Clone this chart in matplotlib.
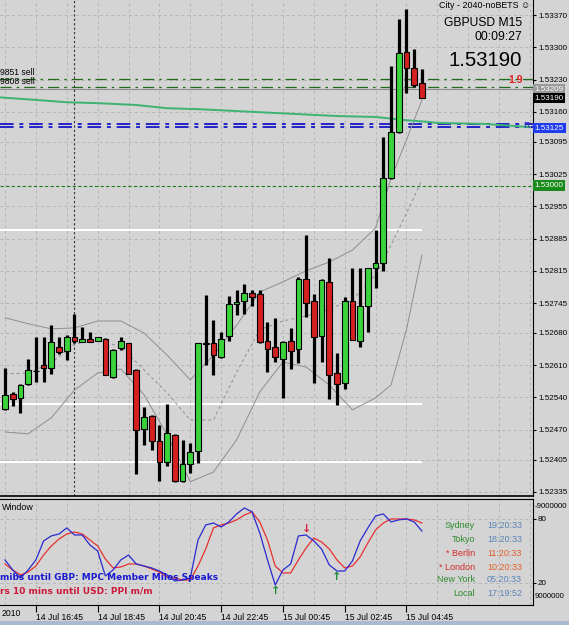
import matplotlib
matplotlib.use('Agg')
import matplotlib.pyplot as plt
from matplotlib.patches import Rectangle

W, H = 569, 625

# ---------------- data ----------------
opens = [1.52515, 1.52548, 1.52539, 1.52569, 1.52597, 1.52611, 1.52604, 1.52650, 1.52641, 1.52671,
         1.52661, 1.52667, 1.52663, 1.52667, 1.52585, 1.52648, 1.52658, 1.52600, 1.52472, 1.52500,
         1.52446, 1.52400, 1.52459, 1.52359, 1.52396, 1.52424, 1.52657, 1.52658, 1.52628, 1.52674,
         1.52743, 1.52749, 1.52767, 1.52765, 1.52663, 1.52650, 1.52624, 1.52663, 1.52645, 1.52797,
         1.52749, 1.52674, 1.52791, 1.52593, 1.52572, 1.52749, 1.52663, 1.52739, 1.52821, 1.52832,
         1.53016, 1.53116, 1.53290, 1.53255, 1.53222]
highs = [1.52604, 1.52552, 1.52569, 1.52624, 1.52671, 1.52671, 1.52697, 1.52671, 1.52676, 1.52721,
         1.52693, 1.52682, 1.52672, 1.52668, 1.52645, 1.52671, 1.52659, 1.52601, 1.52519, 1.52501,
         1.52480, 1.52526, 1.52460, 1.52448, 1.52441, 1.52659, 1.52762, 1.52708, 1.52682, 1.52760,
         1.52773, 1.52786, 1.52773, 1.52773, 1.52704, 1.52713, 1.52662, 1.52691, 1.52802, 1.52893,
         1.52765, 1.52797, 1.52843, 1.52637, 1.52758, 1.52821, 1.52821, 1.52822, 1.52904, 1.53105,
         1.53259, 1.53361, 1.53383, 1.53296, 1.53253]
lows = [1.52513, 1.52522, 1.52506, 1.52567, 1.52574, 1.52574, 1.52591, 1.52634, 1.52621, 1.52658,
        1.52660, 1.52660, 1.52662, 1.52588, 1.52582, 1.52643, 1.52590, 1.52374, 1.52437, 1.52426,
        1.52359, 1.52391, 1.52357, 1.52357, 1.52376, 1.52398, 1.52611, 1.52589, 1.52626, 1.52663,
        1.52719, 1.52721, 1.52739, 1.52658, 1.52595, 1.52617, 1.52539, 1.52602, 1.52615, 1.52715,
        1.52572, 1.52617, 1.52537, 1.52524, 1.52559, 1.52664, 1.52650, 1.52682, 1.52778, 1.52815,
        1.53014, 1.53114, 1.53201, 1.53214, 1.53190]
closes = [1.52546, 1.52537, 1.52568, 1.52600, 1.52598, 1.52604, 1.52661, 1.52639, 1.52671, 1.52663,
          1.52667, 1.52661, 1.52671, 1.52589, 1.52643, 1.52663, 1.52591, 1.52470, 1.52498, 1.52446,
          1.52400, 1.52463, 1.52359, 1.52396, 1.52422, 1.52658, 1.52659, 1.52632, 1.52667, 1.52743,
          1.52747, 1.52767, 1.52758, 1.52661, 1.52645, 1.52628, 1.52661, 1.52641, 1.52797, 1.52745,
          1.52671, 1.52795, 1.52589, 1.52569, 1.52749, 1.52665, 1.52739, 1.52821, 1.52832, 1.53016,
          1.53116, 1.53288, 1.53255, 1.53218, 1.53190]

band_idx = [0, 3, 6, 9, 12, 15, 18, 21, 24, 27, 30, 33, 36, 39, 42, 45, 48, 50, 52, 54]
band_upper = [1.52713, 1.52700, 1.52689, 1.52691, 1.52706, 1.52706, 1.52680, 1.52632, 1.52578, 1.52632,
              1.52697, 1.52769, 1.52791, 1.52815, 1.52834, 1.52860, 1.52908, 1.53016, 1.53099, 1.53186]
band_mid = [1.52591, 1.52593, 1.52615, 1.52656, 1.52665, 1.52650, 1.52600, 1.52550, 1.52491, 1.52491,
            1.52595, 1.52687, 1.52706, 1.52717, 1.52732, 1.52752, 1.52806, 1.52871, 1.52940, 1.53012]
band_lower = [1.52465, 1.52461, 1.52496, 1.52556, 1.52593, 1.52602, 1.52546, 1.52459, 1.52357, 1.52378,
              1.52448, 1.52552, 1.52617, 1.52606, 1.52567, 1.52513, 1.52539, 1.52567, 1.52687, 1.52849]

ma_idx = [-1, 4, 8, 12, 17, 21, 25, 43, 48, 52, 55, 56, 62, 68]
ma_vals = [1.53192, 1.53186, 1.53181, 1.53179, 1.53175, 1.53168, 1.53166, 1.53151, 1.53149, 1.53142,
           1.53138, 1.53136, 1.53134, 1.53127]

sell_levels = [1.53231, 1.53215]
sell_labels = ['9851 sell', '9808 sell']
ask_level = 1.53209
bid_level = 1.53190
blue_levels = [1.53134, 1.53127]
blue_label = 1.53125
green_level = 1.53000
white_levels = [1.52904, 1.52526, 1.52400]
vline_idx = 9

price_ticks = [1.53370, 1.53300, 1.53230, 1.53160, 1.53095, 1.53025, 1.52955, 1.52885,
               1.52815, 1.52745, 1.52680, 1.52610, 1.52540, 1.52470, 1.52405, 1.52335]

time_tick_idx = [4, 12, 20, 28, 36, 44, 52]
time_labels = ['14 Jul 16:45', '14 Jul 18:45', '14 Jul 20:45', '14 Jul 22:45',
               '15 Jul 00:45', '15 Jul 02:45', '15 Jul 04:45']

stoch_main = [41.3, 31.9, 24.4, 31.9, 41.3, 59.1, 63.8, 65.6, 71.3, 64.7,
              64.7, 55.3, 49.7, 26.3, 31.9, 41.3, 45.9, 37.5, 35.6, 33.8,
              30.9, 27.2, 21.6, 22.5, 24.4, 60.0, 74.1, 75.9, 72.2, 76.9,
              84.4, 90.0, 86.3, 66.6, 41.3, 17.8, 31.9, 37.5, 63.8, 64.7,
              59.1, 51.6, 36.6, 30.9, 30.9, 40.3, 59.1, 71.3, 82.5, 84.4,
              76.9, 78.8, 79.7, 76.9, 68.4]
stoch_signal = [37.5, 31.9, 27.2, 30.0, 35.6, 45.9, 54.4, 60.9, 65.6, 67.5,
                65.6, 60.0, 54.4, 42.2, 33.8, 34.7, 37.5, 37.5, 35.6, 32.8,
                30.0, 25.3, 24.4, 22.5, 22.5, 35.6, 51.6, 71.3, 74.1, 75.9,
                78.8, 83.4, 86.3, 76.9, 60.0, 35.6, 29.1, 29.1, 41.3, 52.5,
                61.9, 58.1, 51.6, 41.3, 33.8, 35.6, 44.1, 57.2, 69.4, 75.9,
                79.7, 79.7, 79.7, 78.8, 75.9]
arrows_up = [35, 43]
arrows_down = [39]

zone_names = ['Sydney', 'Tokyo', '* Berlin', '* London', 'New York', 'Local']
zone_times = ['19:20:33', '18:20:33', '11:20:33', '10:20:33', '05:20:33', '17:19:52']
zone_hot = [False, False, True, True, False, False]

# ---------------- figure ----------------
BG = '#d4d4d4'
GRID = '#b6b6b6'
FONT = ['Liberation Sans', 'DejaVu Sans']
plt.rcParams['font.family'] = FONT
LBL = 5.8

fig = plt.figure(figsize=(W / 100, H / 100), dpi=100, facecolor=BG)

def fx(x):
    return x / W

def fy(y):
    return 1 - y / H

main_bottom_px = 496
ax = fig.add_axes([0, fy(main_bottom_px), fx(533), main_bottom_px / H])
ax.set_facecolor(BG)
n = len(closes)
xs = list(range(n))
ax.set_xlim(-0.648, 68.39)
ax.set_ylim(1.52326, 1.53403)

# grid
for gx in range(0, 69, 4):
    ax.axvline(gx, color=GRID, lw=0.7, ls=(0, (3, 3)), zorder=0)
for p in price_ticks:
    ax.axhline(p, color=GRID, lw=0.7, ls=(0, (3, 3)), zorder=0)

# horizontal levels
for p in white_levels:
    ax.hlines(p, -1, 54.0, color='white', lw=1.5, zorder=1)
ax.axhline(ask_level, color='#8c8c8c', lw=0.8, zorder=1)
for p in sell_levels:
    ax.axhline(p, color='#1f6a1f', lw=0.9, ls=(0, (9, 4, 2, 4)), zorder=1)
ax.axhline(green_level, color='#1f7a1f', lw=0.8, ls=(0, (3, 2)), zorder=1)
for p in blue_levels:
    ax.axhline(p, color='#2424c8', lw=1.4, ls=(0, (7, 3, 2, 3)), zorder=1)
ax.axvline(vline_idx, color='#333333', lw=0.8, ls=(0, (2, 2)), zorder=1)

# Bollinger bands and MA
ax.plot(band_idx, band_upper, color='#8e8e8e', lw=0.7, zorder=2)
ax.plot(band_idx, band_lower, color='#8e8e8e', lw=0.7, zorder=2)
ax.plot(band_idx, band_mid, color='#8e8e8e', lw=0.7, ls=(0, (3, 3)), zorder=2)
ax.plot(ma_idx, ma_vals, color='#3cb371', lw=1.4, zorder=2)

# candles
ax.vlines(xs, lows, highs, color='black', lw=2.3, zorder=3)
bull_c = '#3ad43a'
bear_c = '#d42020'
for i in range(n):
    o, c = opens[i], closes[i]
    lo, hi = min(o, c), max(o, c)
    col = bull_c if c >= o else bear_c
    ax.bar(i, max(hi - lo, 0.00001), bottom=lo, width=0.74, color=col,
           edgecolor='black', linewidth=0.8, zorder=4)

for s in ['left', 'top']:
    ax.spines[s].set_visible(False)
ax.spines['right'].set_color('black')
ax.spines['bottom'].set_color('black')
ax.spines['bottom'].set_linewidth(1.2)
ax.set_xticks([])
ax.yaxis.tick_right()
ax.set_yticks(price_ticks)
ax.set_yticklabels([f'{p:.5f}' for p in price_ticks])
ax.tick_params(axis='y', direction='out', length=2.5, pad=1.2, labelsize=LBL, colors='black')

# price boxes on axis
ytr = ax.get_yaxis_transform()
for val, txt, bg in [(ask_level, '1.53209', '#9a9a9a'), (bid_level, '1.53190', '#000000'),
                     (blue_label, '1.53125', '#1f3cf0'), (green_level, '1.53000', '#1a8a1a')]:
    ax.text(1.003, val, txt, transform=ytr, ha='left', va='center', color='white',
            fontsize=LBL, zorder=10, clip_on=False,
            bbox=dict(facecolor=bg, edgecolor='none', pad=1.2))

# texts on the main chart
ax.text(67.6, 1.53130, 'R', color='#2424c8', fontsize=6.5, ha='center', va='center', zorder=6)
ax.text(66.1, 1.53229, '1.9', color='#e02020', fontsize=7.5, fontweight='bold',
        ha='center', va='center', zorder=6)
fig.text(fx(0), fy(72.5), sell_labels[0], fontsize=6.2, va='center', ha='left')
fig.text(fx(0), fy(81.5), sell_labels[1], fontsize=6.2, va='center', ha='left')
fig.text(fx(530), fy(6), 'City - 2040-noBETS \u263a', fontsize=6.4, ha='right', va='center',
         family=['Liberation Sans', 'DejaVu Sans'])
fig.text(fx(522), fy(23), 'GBPUSD M15', fontsize=8.7, ha='right', va='center')
fig.text(fx(522), fy(37), '00:09:27', fontsize=8.7, ha='right', va='center')
fig.text(fx(522), fy(60), '1.53190', fontsize=14.6, ha='right', va='center')

# ---------------- indicator window ----------------
ax2 = fig.add_axes([0, fy(605), fx(533), (605 - 499) / H])
ax2.set_facecolor(BG)
ax2.set_xlim(-0.648, 68.39)
ax2.set_ylim(-0.94, 98.4)
for gx in range(0, 69, 4):
    ax2.axvline(gx, color=GRID, lw=0.7, ls=(0, (3, 3)), zorder=0)
for lv in [20, 80]:
    ax2.axhline(lv, color=GRID, lw=0.7, ls=(0, (3, 3)), zorder=0)
ax2.plot(xs, stoch_main, color='#2a2ad0', lw=0.9, zorder=3)
ax2.plot(xs, stoch_signal, color='#e83030', lw=0.9, zorder=2)
for i in arrows_up:
    ax2.text(i, stoch_main[i] - 1, '\u2191', color='#1a8a3a', fontsize=8, fontweight='bold',
             ha='center', va='top', family='DejaVu Sans', zorder=5)
for i in arrows_down:
    ax2.text(i, stoch_main[i] + 1, '\u2193', color='#d42040', fontsize=8, fontweight='bold',
             ha='center', va='bottom', family='DejaVu Sans', zorder=5)

ax2.spines['left'].set_visible(False)
for s in ['right', 'top', 'bottom']:
    ax2.spines[s].set_color('black')
ax2.set_yticks([20, 80])
ax2.yaxis.tick_right()
ax2.set_yticklabels(['20', '80'])
ax2.tick_params(axis='y', direction='out', length=2, pad=1, labelsize=LBL)
ax2.set_xticks(time_tick_idx)
ax2.set_xticklabels(time_labels)
ax2.tick_params(axis='x', direction='out', length=5, pad=0.5, labelsize=6.2)
for lbl in ax2.get_xticklabels():
    lbl.set_ha('left')
fig.text(fx(2), fy(613), '2010', fontsize=6.2, ha='left', va='center')
fig.text(fx(535), fy(507), '-9000000', fontsize=5.6, ha='left', va='center')
fig.text(fx(535), fy(597), '9000000', fontsize=5.6, ha='left', va='center')

fig.text(fx(2), fy(508), 'Window', fontsize=6.4, ha='left', va='center')
fig.text(fx(0), fy(578), 'mibs until GBP: MPC Member Milos Speaks', fontsize=6.5,
         fontweight='bold', color='#1a1ad0', ha='left', va='center', family='DejaVu Sans', zorder=6)
fig.text(fx(0), fy(591), 'rs 10 mins until USD: PPI m/m', fontsize=6.5,
         fontweight='bold', color='#cc1a3a', ha='left', va='center', family='DejaVu Sans', zorder=6)

row_y = [526, 539, 553, 567, 580, 593]
for name, t, hot, yy in zip(zone_names, zone_times, zone_hot, row_y):
    fig.text(fx(475), fy(yy), name, fontsize=6.5, ha='right', va='center',
             color='#d42a2a' if hot else '#2e8b2e')
    fig.text(fx(487), fy(yy), t, fontsize=6.5, ha='left', va='center',
             color='#e0602a' if hot else '#5b84b6')

fig.patches.append(Rectangle((0, 0), 1, 4 / H, transform=fig.transFigure,
                             facecolor='#a9b9d2', edgecolor='none'))

fig.savefig('out.png', dpi=100, facecolor=BG)
